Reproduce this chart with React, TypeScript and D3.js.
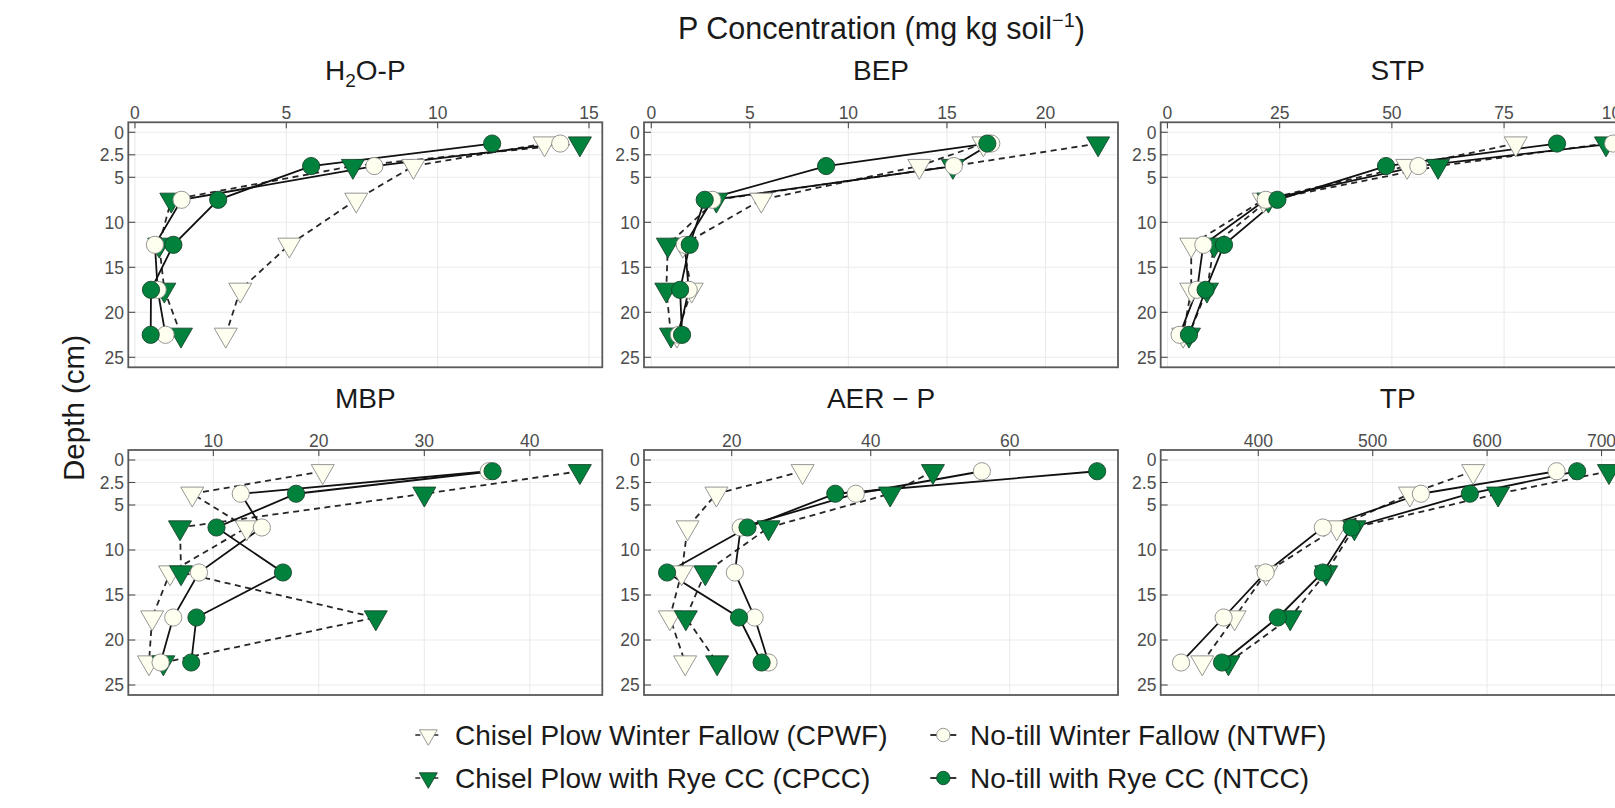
import React from 'react';
import * as d3 from 'd3';

// ---------- data ----------
const depths = [1.25, 3.75, 7.5, 12.5, 17.5, 22.5];
const depthTicks = [0, 2.5, 5, 10, 15, 20, 25];
const depthLimits = [-1.11, 26.11];

const seriesKeys = ['CPWF', 'CPCC', 'NTWF', 'NTCC'];
const seriesLabels = [
  'Chisel Plow Winter Fallow (CPWF)',
  'Chisel Plow with Rye CC (CPCC)',
  'No-till Winter Fallow (NTWF)',
  'No-till with Rye CC (NTCC)',
];

// H2O-P
const h2oCPWF = [13.53, 9.2, 7.31, 5.1, 3.48, 3.0];
const h2oCPCC = [14.7, 7.2, 1.2, 0.8, 0.97, 1.52];
const h2oNTWF = [14.05, 7.91, 1.54, 0.66, 0.75, 1.01];
const h2oNTCC = [11.8, 5.82, 2.75, 1.27, 0.53, 0.52];
const h2oTicks = [0, 5, 10, 15];
const h2oLimits = [-0.22, 15.44];

// BEP
const bepCPWF = [16.85, 13.6, 5.58, 1.6, 2.05, 1.3];
const bepCPCC = [22.67, 15.3, 3.3, 0.84, 0.76, 1.0];
const bepNTWF = [17.25, 15.35, 3.1, 1.7, 1.9, 1.4];
const bepNTCC = [17.05, 8.87, 2.71, 1.95, 1.46, 1.56];
const bepTicks = [0, 5, 10, 15, 20];
const bepLimits = [-0.37, 23.68];

// STP
const stpCPWF = [77.6, 53.4, 21.4, 5.3, 5.3, 3.5];
const stpCPCC = [97.7, 60.3, 22.5, 10.4, 8.8, 4.8];
const stpNTWF = [99.3, 55.9, 21.9, 8.0, 6.6, 2.7];
const stpNTCC = [86.8, 48.7, 24.5, 12.6, 8.5, 4.8];
const stpTicks = [0, 25, 50, 75, 100];
const stpLimits = [-1.5, 104.1];

// MBP
const mbpCPWF = [20.37, 8.0, 13.17, 5.9, 4.2, 3.9];
const mbpCPCC = [44.74, 30.0, 6.84, 6.94, 25.4, 5.26];
const mbpNTWF = [36.1, 12.6, 14.6, 8.64, 6.2, 5.0];
const mbpNTCC = [36.47, 17.84, 10.3, 16.6, 8.4, 7.9];
const mbpTicks = [10, 20, 30, 40];
const mbpLimits = [1.94, 46.87];

// AER-P
const aerCPWF = [30.2, 17.8, 13.65, 12.8, 11.1, 13.3];
const aerCPCC = [48.95, 42.8, 25.3, 16.2, 13.4, 17.9];
const aerNTWF = [56.0, 37.85, 21.3, 20.45, 23.3, 25.3];
const aerNTCC = [72.58, 34.9, 22.27, 10.7, 21.05, 24.3];
const aerTicks = [20, 40, 60];
const aerLimits = [7.38, 75.58];

// TP
const tpCPWF = [587.8, 532.5, 468.6, 407, 379.3, 351];
const tpCPCC = [706.5, 609.6, 484, 459.3, 427.9, 373.9];
const tpNTWF = [660.7, 542.1, 456.4, 406.4, 369.7, 332.5];
const tpNTCC = [678.7, 584.9, 481.6, 456.4, 417.1, 368.3];
const tpTicks = [400, 500, 600, 700];
const tpLimits = [314.7, 729.0];

const panels = [
  { key: 'h2o', title: 'H2O', series: [h2oCPWF, h2oCPCC, h2oNTWF, h2oNTCC], ticks: h2oTicks, limits: h2oLimits },
  { key: 'bep', title: 'BEP', series: [bepCPWF, bepCPCC, bepNTWF, bepNTCC], ticks: bepTicks, limits: bepLimits },
  { key: 'stp', title: 'STP', series: [stpCPWF, stpCPCC, stpNTWF, stpNTCC], ticks: stpTicks, limits: stpLimits },
  { key: 'mbp', title: 'MBP', series: [mbpCPWF, mbpCPCC, mbpNTWF, mbpNTCC], ticks: mbpTicks, limits: mbpLimits },
  { key: 'aer', title: 'AER \u2212 P', series: [aerCPWF, aerCPCC, aerNTWF, aerNTCC], ticks: aerTicks, limits: aerLimits },
  { key: 'tp', title: 'TP', series: [tpCPWF, tpCPCC, tpNTWF, tpNTCC], ticks: tpTicks, limits: tpLimits },
];

// ---------- styling ----------
const FONT = '"Liberation Sans", Arial, Helvetica, sans-serif';
const GREEN = '#00823d';
const IVORY = '#fffff0';
const styles = [
  { fill: IVORY, stroke: '#8a8a8a', shape: 'tri', dash: '6,4.5' },
  { fill: GREEN, stroke: '#16452a', shape: 'tri', dash: '6,4.5' },
  { fill: IVORY, stroke: '#8a8a8a', shape: 'circ', dash: null },
  { fill: GREEN, stroke: '#16452a', shape: 'circ', dash: null },
];

const W = 1615;
const H = 808;
const colLeft = [128.3, 644, 1160.7];
const rowTop = [122.3, 450];
const PW = 474;
const PH = 245;

function Marker({ x, y, s, scale }: { x: number; y: number; s: any; scale: number }) {
  if (s.shape === 'circ') {
    const r = 8.6 * scale;
    return <circle cx={x} cy={y} r={r} fill={s.fill} stroke={s.stroke} strokeWidth={0.9} />;
  }
  const w = 23 * scale;
  const h = w * 0.866;
  const pts = [
    [x - w / 2, y - h / 3],
    [x + w / 2, y - h / 3],
    [x, y + (2 * h) / 3],
  ];
  return <polygon points={pts.map((p) => p.join(',')).join(' ')} fill={s.fill} stroke={s.stroke} strokeWidth={0.9} />;
}

function Panel({ p, idx }: { p: any; idx: number }) {
  const col = idx % 3;
  const row = Math.floor(idx / 3);
  const left = colLeft[col];
  const top = rowTop[row];
  const x = d3.scaleLinear().domain(p.limits).range([left, left + PW]);
  const y = d3.scaleLinear().domain(depthLimits).range([top, top + PH]);
  const clipId = 'clip-' + p.key;
  const line = d3
    .line<number>()
    .x((d) => x(d))
    .y((_, i) => y(depths[i]));
  const cx = left + PW / 2;
  return (
    <g>
      <defs>
        <clipPath id={clipId}>
          <rect x={left} y={top} width={PW} height={PH} />
        </clipPath>
      </defs>
      <rect x={left} y={top} width={PW} height={PH} fill="#ffffff" />
      {/* grid */}
      {p.ticks.map((t: number) => (
        <line key={'gx' + t} x1={x(t)} x2={x(t)} y1={top} y2={top + PH} stroke="#ebebeb" strokeWidth={1.1} />
      ))}
      {depthTicks.map((t) => (
        <line key={'gy' + t} x1={left} x2={left + PW} y1={y(t)} y2={y(t)} stroke="#ebebeb" strokeWidth={1.1} />
      ))}
      {/* data */}
      <g clipPath={`url(#${clipId})`}>
        {p.series.map((vals: number[], si: number) => (
          <path
            key={'l' + si}
            d={line(vals) || ''}
            fill="none"
            stroke={styles[si].dash ? '#262626' : '#111111'}
            strokeWidth={1.8}
            strokeDasharray={styles[si].dash || undefined}
          />
        ))}
        {p.series.map((vals: number[], si: number) =>
          vals.map((v, i) => <Marker key={'m' + si + '-' + i} x={x(v)} y={y(depths[i])} s={styles[si]} scale={1} />)
        )}
      </g>
      {/* frame */}
      <rect x={left} y={top} width={PW} height={PH} fill="none" stroke="#5a5a5a" strokeWidth={1.8} />
      {/* x ticks (top, inside) */}
      {p.ticks.map((t: number) => (
        <g key={'tx' + t}>
          <line x1={x(t)} x2={x(t)} y1={top} y2={top + 6} stroke="#4d4d4d" strokeWidth={1.1} />
          <text x={x(t)} y={top - 3} textAnchor="middle" fontFamily={FONT} fontSize={17.5} fill="#4d4d4d">
            {d3.format('~g')(t)}
          </text>
        </g>
      ))}
      {/* y ticks */}
      {depthTicks.map((t) => (
        <g key={'ty' + t}>
          <line x1={left} x2={left + 7} y1={y(t)} y2={y(t)} stroke="#4d4d4d" strokeWidth={1.1} />
          <text x={left - 4.3} y={y(t) + 6.3} textAnchor="end" fontFamily={FONT} fontSize={17.5} fill="#4d4d4d">
            {String(t)}
          </text>
        </g>
      ))}
      {/* title */}
      <text x={cx} y={top - 42.3} textAnchor="middle" fontFamily={FONT} fontSize={28} fill="#1a1a1a">
        {p.key === 'h2o' ? (
          <>
            <tspan>H</tspan>
            <tspan fontSize={19} dy={7}>2</tspan>
            <tspan dy={-7}>O-P</tspan>
          </>
        ) : (
          p.title
        )}
      </text>
    </g>
  );
}

function LegendItem({ si, kx, ky }: { si: number; kx: number; ky: number }) {
  const s = styles[si];
  return (
    <g>
      <line
        x1={kx - 13}
        x2={kx + 13}
        y1={ky}
        y2={ky}
        stroke={s.dash ? '#262626' : '#111111'}
        strokeWidth={1.7}
        strokeDasharray={s.dash ? '5,4' : undefined}
      />
      <Marker x={kx} y={ky} s={s} scale={0.78} />
      <text x={kx + 26.7} y={ky + 10} fontFamily={FONT} fontSize={28} fill="#1a1a1a">
        {seriesLabels[si]}
      </text>
    </g>
  );
}

export default function App() {
  const legendCols = [428.3, 943.3];
  const legendRows = [735, 778];
  return (
    <svg
      width={W}
      height={H}
      viewBox={`0 0 ${W} ${H}`}
      style={{ position: 'absolute', left: 0, top: 0, background: '#ffffff' }}
    >
      <rect x={0} y={0} width={W} height={H} fill="#ffffff" />
      <text x={881.5} y={39} textAnchor="middle" fontFamily={FONT} fontSize={30.5} fill="#1a1a1a">
        <tspan>P Concentration (mg kg soil</tspan>
        <tspan fontSize={20} dy={-12}>{'\u22121'}</tspan>
        <tspan dy={12}>)</tspan>
      </text>
      <text
        transform="translate(84,408) rotate(-90)"
        textAnchor="middle"
        fontFamily={FONT}
        fontSize={29.5}
        fill="#1a1a1a"
      >
        Depth (cm)
      </text>
      {panels.map((p, i) => (
        <Panel key={p.key} p={p} idx={i} />
      ))}
      {/* legend: column-wise order */}
      {seriesKeys.map((k, si) => (
        <LegendItem key={k} si={si} kx={legendCols[Math.floor(si / 2)]} ky={legendRows[si % 2]} />
      ))}
    </svg>
  );
}
